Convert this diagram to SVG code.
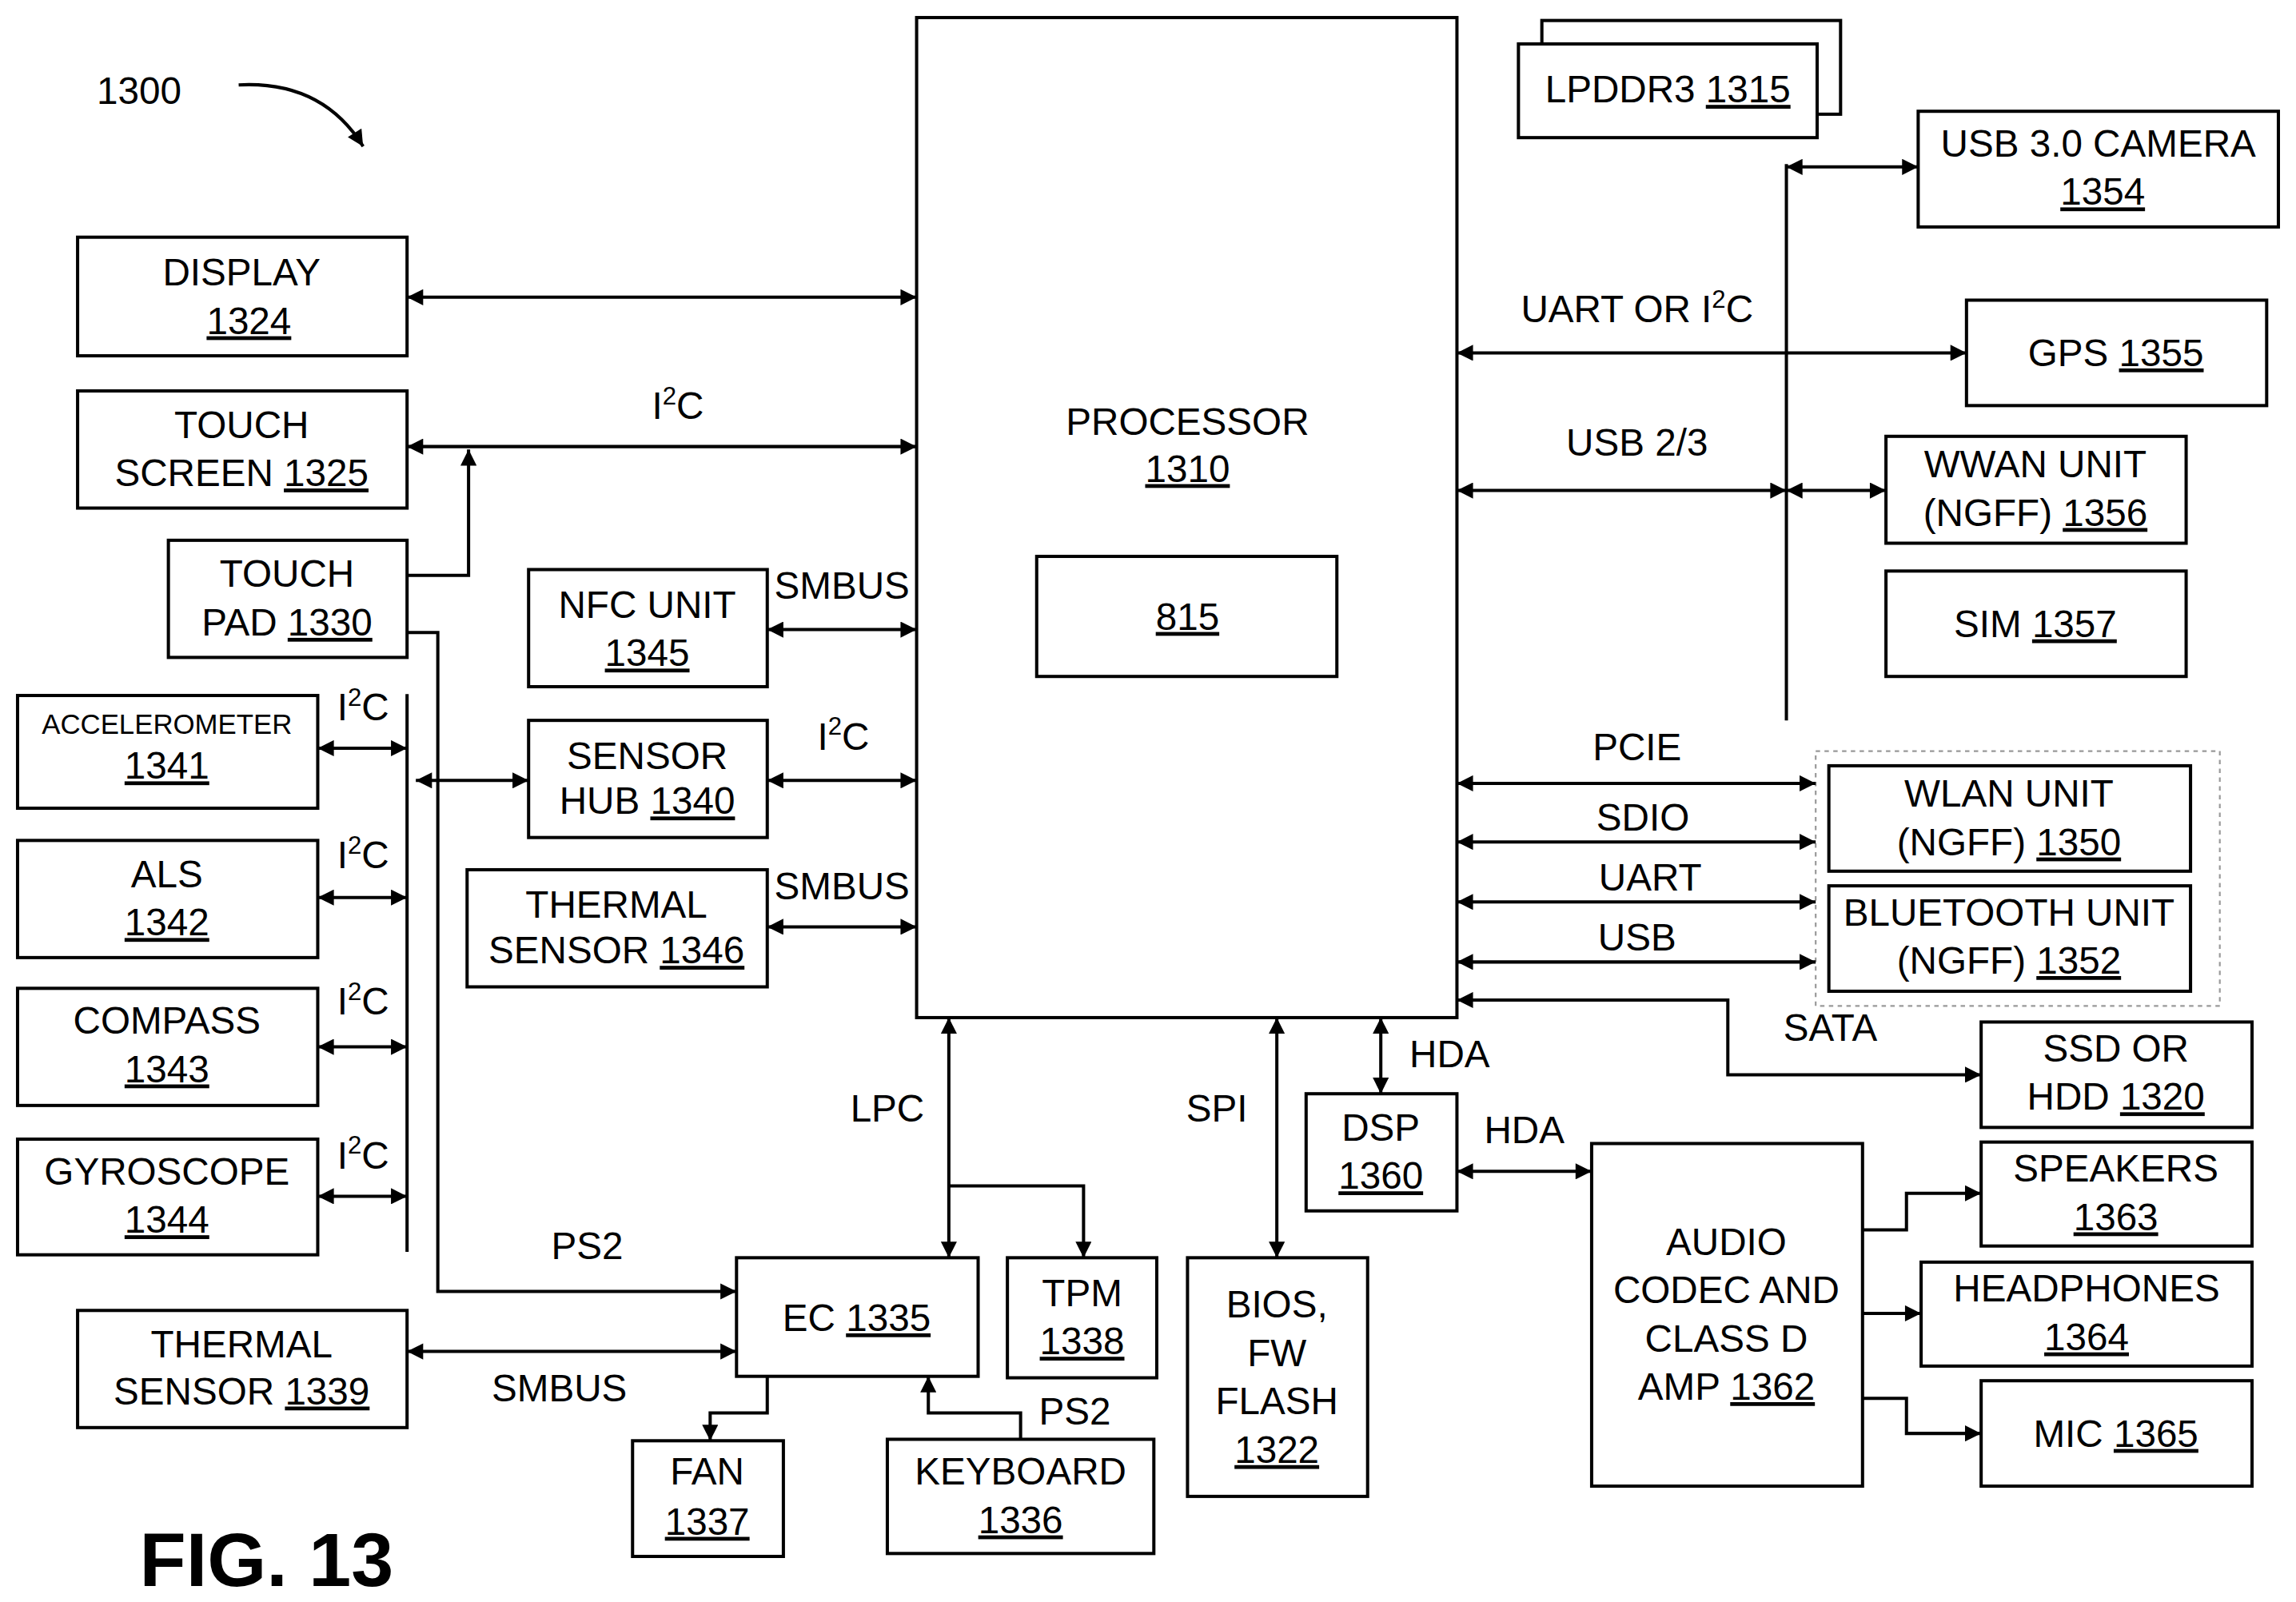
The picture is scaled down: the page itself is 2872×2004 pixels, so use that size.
<svg xmlns="http://www.w3.org/2000/svg" width="2872" height="2004" viewBox="0 0 2872 2004">
<defs>
<marker id="a" viewBox="0 0 10 10" refX="10" refY="5" markerWidth="13" markerHeight="11" orient="auto-start-reverse" markerUnits="userSpaceOnUse"><path d="M0,0 L10,5 L0,10 z" style="fill:#000;stroke:none"/></marker>
<style>
rect{fill:#fff;stroke:#000;stroke-width:2.2}
.c path{fill:none;stroke:#000;stroke-width:2.2}
text{font-family:"Liberation Sans",Arial,sans-serif;font-size:26px;text-anchor:middle;fill:#000}
.u{text-decoration:underline}
.s{font-size:17px}
.c path{marker-end:url(#a)}
.c .d{marker-start:url(#a)}
.c .n{marker-end:none}
</style>
</defs>
<rect x="0" y="0" width="2872" height="2004" style="fill:#fff;stroke:none"/>
<g transform="scale(1.8316)">
<g id="processor"><rect x="626" y="12" width="369" height="683"/><text x="811" y="297">PROCESSOR</text><text x="811" y="329" class="u">1310</text><rect x="708" y="380" width="205" height="82"/><text x="811" y="430" class="u">815</text></g>
<g id="lpddr3"><rect x="1053" y="14" width="204" height="64"/><rect x="1037" y="30" width="204" height="64"/><text x="1139" y="70">LPDDR3 <tspan class="u">1315</tspan></text></g>
<g id="camera"><rect x="1310" y="76" width="246" height="79"/><text x="1433" y="107">USB 3.0 CAMERA</text><text x="1436" y="140" class="u">1354</text></g>
<g id="gps"><rect x="1343" y="205" width="205" height="72"/><text x="1445" y="250">GPS <tspan class="u">1355</tspan></text></g>
<g id="wwan"><rect x="1288" y="298" width="205" height="73"/><text x="1390" y="326">WWAN UNIT</text><text x="1390" y="359">(NGFF) <tspan class="u">1356</tspan></text></g>
<g id="sim"><rect x="1288" y="390" width="205" height="72"/><text x="1390" y="435">SIM <tspan class="u">1357</tspan></text></g>
<rect x="1240" y="513" width="276" height="174" style="stroke:#999;stroke-width:1.2;stroke-dasharray:3 3;fill:none"/>
<g id="wlan"><rect x="1249" y="523" width="247" height="72"/><text x="1372" y="551">WLAN UNIT</text><text x="1372" y="584">(NGFF) <tspan class="u">1350</tspan></text></g>
<g id="bt"><rect x="1249" y="605" width="247" height="72"/><text x="1372" y="632">BLUETOOTH UNIT</text><text x="1372" y="665">(NGFF) <tspan class="u">1352</tspan></text></g>
<g id="ssd"><rect x="1353" y="698" width="185" height="72"/><text x="1445" y="725">SSD OR</text><text x="1445" y="758">HDD <tspan class="u">1320</tspan></text></g>
<g id="dsp"><rect x="892" y="747" width="103" height="80"/><text x="943" y="779">DSP</text><text x="943" y="812" class="u">1360</text></g>
<g id="audio"><rect x="1087" y="781" width="185" height="234"/><text x="1179" y="857">AUDIO</text><text x="1179" y="890">CODEC AND</text><text x="1179" y="923">CLASS D</text><text x="1179" y="956">AMP <tspan class="u">1362</tspan></text></g>
<g id="speakers"><rect x="1353" y="780" width="185" height="71"/><text x="1445" y="807">SPEAKERS</text><text x="1445" y="840" class="u">1363</text></g>
<g id="headphones"><rect x="1312" y="862" width="226" height="71"/><text x="1425" y="889">HEADPHONES</text><text x="1425" y="922" class="u">1364</text></g>
<g id="mic"><rect x="1353" y="943" width="185" height="72"/><text x="1445" y="988">MIC <tspan class="u">1365</tspan></text></g>
<g id="bios"><rect x="811" y="859" width="123" height="163"/><text x="872" y="900">BIOS,</text><text x="872" y="933">FW</text><text x="872" y="966">FLASH</text><text x="872" y="999" class="u">1322</text></g>
<g id="tpm"><rect x="688" y="859" width="102" height="82"/><text x="739" y="892">TPM</text><text x="739" y="925" class="u">1338</text></g>
<g id="ec"><rect x="503" y="859" width="165" height="81"/><text x="585" y="909">EC  <tspan class="u">1335</tspan></text></g>
<g id="fan"><rect x="432" y="984" width="103" height="79"/><text x="483" y="1014">FAN</text><text x="483" y="1048" class="u">1337</text></g>
<g id="keyboard"><rect x="606" y="983" width="182" height="78"/><text x="697" y="1014">KEYBOARD</text><text x="697" y="1047" class="u">1336</text></g>
<g id="thermal1339"><rect x="53" y="895" width="225" height="80"/><text x="165" y="927">THERMAL</text><text x="165" y="959">SENSOR <tspan class="u">1339</tspan></text></g>
<g id="touchpad"><rect x="115" y="369" width="163" height="80"/><text x="196" y="401">TOUCH</text><text x="196" y="434">PAD <tspan class="u">1330</tspan></text></g>
<g id="touchscreen"><rect x="53" y="267" width="225" height="80"/><text x="165" y="299">TOUCH</text><text x="165" y="332">SCREEN <tspan class="u">1325</tspan></text></g>
<g id="display"><rect x="53" y="162" width="225" height="81"/><text x="165" y="195">DISPLAY</text><text x="170" y="228" class="u">1324</text></g>
<g id="nfc"><rect x="361" y="389" width="163" height="80"/><text x="442" y="422">NFC UNIT</text><text x="442" y="455" class="u">1345</text></g>
<g id="sensorhub"><rect x="361" y="492" width="163" height="80"/><text x="442" y="525">SENSOR</text><text x="442" y="556">HUB  <tspan class="u">1340</tspan></text></g>
<g id="thermal1346"><rect x="319" y="594" width="205" height="80"/><text x="421" y="627">THERMAL</text><text x="421" y="658">SENSOR <tspan class="u">1346</tspan></text></g>
<g id="accel"><rect x="12" y="475" width="205" height="77"/><text x="114" y="501" style="font-size:19px">ACCELEROMETER</text><text x="114" y="532" class="u">1341</text></g>
<g id="als"><rect x="12" y="574" width="205" height="80"/><text x="114" y="606">ALS</text><text x="114" y="639" class="u">1342</text></g>
<g id="compass"><rect x="12" y="675" width="205" height="80"/><text x="114" y="706">COMPASS</text><text x="114" y="739" class="u">1343</text></g>
<g id="gyro"><rect x="12" y="778" width="205" height="79"/><text x="114" y="809">GYROSCOPE</text><text x="114" y="842" class="u">1344</text></g>
<g id="connectors" class="c">
<path class="n" d="M1220,112 V492"/>
<path class="d" d="M1220,114 H1310"/>
<path class="d" d="M995,241 H1343"/>
<path class="d" d="M995,335 H1220"/>
<path class="d" d="M1220,335 H1288"/>
<path class="d" d="M995,535 H1240"/>
<path class="d" d="M995,575 H1240"/>
<path class="d" d="M995,616 H1240"/>
<path class="d" d="M995,657 H1240"/>
<path class="d" d="M995,683 H1180 V734 H1353"/>
<path class="d" d="M943,695 V747"/>
<path class="d" d="M995,800 H1087"/>
<path d="M1272,840 H1302 V815 H1353"/>
<path d="M1272,897 H1312"/>
<path d="M1272,955 H1302 V979 H1353"/>
<path class="d" d="M872,695 V859"/>
<path class="d" d="M648,695 V859"/>
<path d="M648,810 H740 V859"/>
<path d="M524,940 V965 H485 V984"/>
<path d="M697,983 V965 H634 V940"/>
<path class="d" d="M278,923 H503"/>
<path d="M278,432 H299 V882 H503"/>
<path class="d" d="M278,305 H626"/>
<path d="M278,393 H320 V307"/>
<path class="d" d="M278,203 H626"/>
<path class="d" d="M524,430 H626"/>
<path class="d" d="M524,533 H626"/>
<path class="d" d="M284,533 H361"/>
<path class="d" d="M524,633 H626"/>
<path class="n" d="M278,474 V855"/>
<path class="d" d="M217,511 H278"/>
<path class="d" d="M217,613 H278"/>
<path class="d" d="M217,715 H278"/>
<path class="d" d="M217,817 H278"/>
<path d="M163,58 Q220,55 248,100"/>
</g>
<g id="labels">
<text x="1118" y="220">UART OR I<tspan class="s" dy="-10">2</tspan><tspan dy="10">C</tspan></text>
<text x="1118" y="311">USB 2/3</text>
<text x="1118" y="519">PCIE</text>
<text x="1122" y="567">SDIO</text>
<text x="1127" y="608">UART</text>
<text x="1118" y="649">USB</text>
<text x="1250" y="711">SATA</text>
<text x="990" y="729">HDA</text>
<text x="1041" y="781">HDA</text>
<text x="831" y="766">SPI</text>
<text x="606" y="766">LPC</text>
<text x="734" y="973">PS2</text>
<text x="382" y="957">SMBUS</text>
<text x="401" y="860">PS2</text>
<text x="463" y="286">I<tspan class="s" dy="-10">2</tspan><tspan dy="10">C</tspan></text>
<text x="575" y="409">SMBUS</text>
<text x="576" y="512">I<tspan class="s" dy="-10">2</tspan><tspan dy="10">C</tspan></text>
<text x="575" y="614">SMBUS</text>
<text x="248" y="492">I<tspan class="s" dy="-10">2</tspan><tspan dy="10">C</tspan></text>
<text x="248" y="593">I<tspan class="s" dy="-10">2</tspan><tspan dy="10">C</tspan></text>
<text x="248" y="693">I<tspan class="s" dy="-10">2</tspan><tspan dy="10">C</tspan></text>
<text x="248" y="798">I<tspan class="s" dy="-10">2</tspan><tspan dy="10">C</tspan></text>
<text x="95" y="71">1300</text>
<text x="182" y="1083" style="font-size:52px;font-weight:bold">FIG. 13</text>
</g>
</g>
</svg>
